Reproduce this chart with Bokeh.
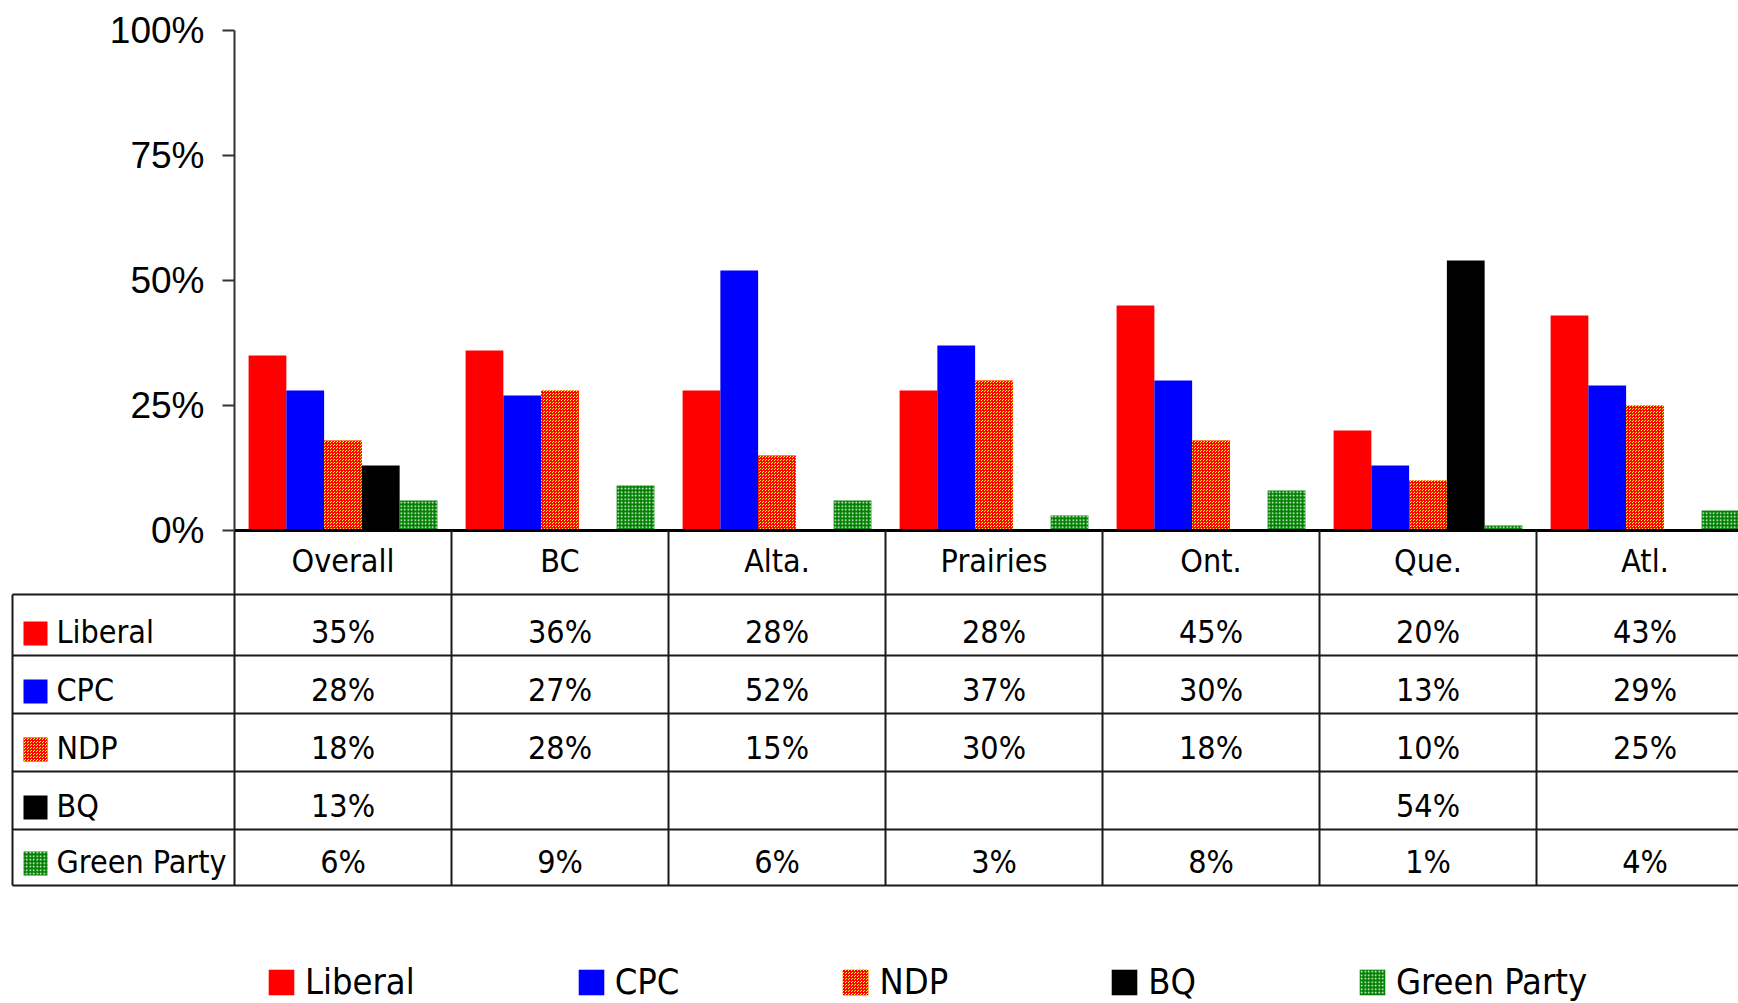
from bokeh.plotting import figure
from bokeh.models import Range1d, LinearAxis, FixedTicker, Legend, LegendItem, ColumnDataSource
from bokeh.core.properties import value
from bokeh.embed import file_html
from bokeh.resources import INLINE

# ---------------- data ----------------
categories = ["Overall", "BC", "Alta.", "Prairies", "Ont.", "Que.", "Atl."]
parties = ["Liberal", "CPC", "NDP", "BQ", "Green Party"]
liberal = [35, 36, 28, 28, 45, 20, 43]
cpc = [28, 27, 52, 37, 30, 13, 29]
ndp = [18, 28, 15, 30, 18, 10, 25]
bq = [13, None, None, None, None, 54, None]
green = [6, 9, 6, 3, 8, 1, 4]
ytick_values = [0, 25, 50, 75, 100]
ytick_labels = ["0%", "25%", "50%", "75%", "100%"]

series = [liberal, cpc, ndp, bq, green]

# ---------------- layout helpers (page px -> data) ----------------
W, H = 1738, 1003
AX_X = 234.0      # page x of category 0 start
CAT_W = 217.0     # px per category
ZERO_Y = 530.0    # page y of 0%
PX_PER_PCT = 5.0


def X(px):
    return (px - AX_X) / CAT_W


def Y(py):
    return (ZERO_Y - py) / PX_PER_PCT


NARROW = "'DejaVu Sans Condensed', 'Liberation Sans', sans-serif"
REG = "'Liberation Sans', Arial, sans-serif"
LINE = "#1a1a1a"

styles = {
    "Liberal": dict(fill_color="#FF0000"),
    "CPC": dict(fill_color="#0000FF"),
    "NDP": dict(fill_color="#FFFF00", hatch_pattern="criss_cross", hatch_color="#FF0000",
                hatch_scale=3, hatch_weight=1),
    "BQ": dict(fill_color="#000000"),
    "Green Party": dict(fill_color="#008000", hatch_pattern="dot", hatch_color="#FFFFFF",
                        hatch_scale=3.5, hatch_weight=1),
}

p = figure(width=W, height=H,
           x_range=Range1d(X(0), X(W)), y_range=Range1d(Y(H), Y(0)),
           output_backend="svg", toolbar_location=None,
           x_axis_location=None, y_axis_location=None,
           min_border=0, outline_line_color=None)
p.background_fill_color = "white"
p.grid.visible = False

# ---------------- bars ----------------
BAR_W = 0.174
nparty = len(parties)
renderers = []
for j, (name, vals) in enumerate(zip(parties, series)):
    xs, tops = [], []
    for i, v in enumerate(vals):
        if v is None:
            continue
        xs.append(i + 0.5 + (j - (nparty - 1) / 2) * BAR_W)
        tops.append(v)
    src = ColumnDataSource(dict(x=xs, top=tops))
    r = p.vbar(x="x", top="top", bottom=0, width=BAR_W, source=src,
               line_color=None, **styles[name])
    renderers.append(r)

# ---------------- y axis ----------------
yaxis = LinearAxis(fixed_location=0, bounds=(0, 100),
                   ticker=FixedTicker(ticks=ytick_values),
                   major_label_overrides={v: l for v, l in zip(ytick_values, ytick_labels)})
yaxis.axis_line_color = "#333333"
yaxis.axis_line_width = 2
yaxis.major_tick_line_color = "#333333"
yaxis.major_tick_line_width = 2
yaxis.major_tick_in = 0
yaxis.major_tick_out = 12
yaxis.minor_tick_line_color = None
yaxis.major_label_standoff = 18
yaxis.major_label_text_font = REG
yaxis.major_label_text_font_size = "37px"
yaxis.major_label_text_color = "black"
p.add_layout(yaxis, "left")

# ---------------- data table ----------------
ncat = len(categories)
header_bottom = 594.0
row_bottoms = [655.0, 713.0, 771.0, 829.0, 885.0]
table_left = 12.0
right_edge = W + 10

# thick baseline at 0
p.segment(x0=[0], y0=[0], x1=[X(right_edge)], y1=[0], line_color="black", line_width=3)
# horizontal lines of table body
hy = [header_bottom] + row_bottoms
p.segment(x0=[X(table_left)] * len(hy), y0=[Y(v) for v in hy],
          x1=[X(right_edge)] * len(hy), y1=[Y(v) for v in hy],
          line_color=LINE, line_width=2)
# vertical lines at category boundaries
vx = list(range(ncat + 1))
p.segment(x0=vx, y0=[0] * len(vx), x1=vx, y1=[Y(row_bottoms[-1])] * len(vx),
          line_color=LINE, line_width=2)
# left border of label column
p.segment(x0=[X(table_left)], y0=[Y(header_bottom)], x1=[X(table_left)],
          y1=[Y(row_bottoms[-1])], line_color=LINE, line_width=2)

TXT = dict(text_font=value(NARROW), text_font_size="32px", text_baseline="middle",
           text_color="black")

# category header labels
p.text(x=[i + 0.5 for i in range(ncat)], y=[Y(560)] * ncat, text=categories,
       text_align="center", **TXT)

# values
tx, ty, tt = [], [], []
for j, vals in enumerate(series):
    for i, v in enumerate(vals):
        if v is None:
            continue
        tx.append(i + 0.5)
        ty.append(Y(row_bottoms[j] - 24))
        tt.append(f"{v}%")
p.text(x=tx, y=ty, text=tt, text_align="center", **TXT)

# row labels with swatches
for j, name in enumerate(parties):
    rb = row_bottoms[j]
    p.quad(left=[X(23)], right=[X(47)], bottom=[Y(rb - 10)], top=[Y(rb - 34)],
           line_color=None, **styles[name])
p.text(x=[X(56)] * nparty, y=[Y(rb - 24) for rb in row_bottoms], text=parties,
       text_align="left", **TXT)

# ---------------- legend ----------------
legend = Legend(items=[LegendItem(label=n, renderers=[r]) for n, r in zip(parties, renderers)],
                orientation="horizontal", location=(265, 1), padding=0, margin=0,
                spacing=160, glyph_width=32, glyph_height=32, label_standoff=8,
                label_text_font=NARROW, label_text_font_size="36px",
                label_text_color="black",
                border_line_alpha=0, background_fill_alpha=0)
p.add_layout(legend)

open("out.html", "w").write(file_html(p, INLINE))
